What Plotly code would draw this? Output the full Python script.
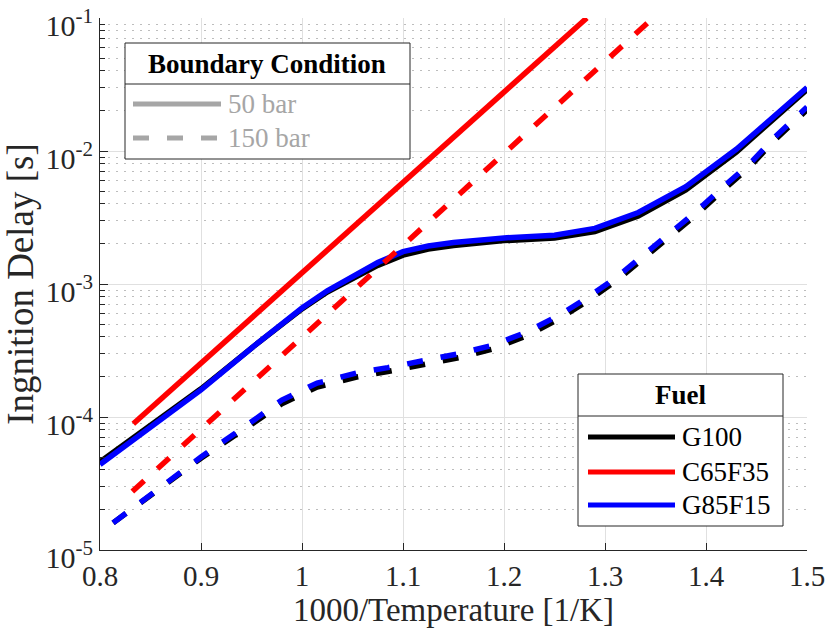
import plotly.graph_objects as go

# ---------------- data ----------------
x_50 = [0.80, 0.85, 0.90, 0.95, 1.00, 1.025, 1.05, 1.075, 1.10, 1.125, 1.15, 1.175, 1.20, 1.25, 1.29, 1.333, 1.38, 1.43, 1.50]
g100_50 = [4.6e-5, 8.6e-5, 1.63e-4, 3.3e-4, 6.5e-4, 8.7e-4, 1.1e-3, 1.38e-3, 1.65e-3, 1.83e-3, 1.95e-3, 2.05e-3, 2.12e-3, 2.22e-3, 2.48e-3, 3.25e-3, 5.1e-3, 9.8e-3, 2.9e-2]
g85f15_50 = [4.4e-5, 8.3e-5, 1.6e-4, 3.3e-4, 6.6e-4, 8.9e-4, 1.15e-3, 1.45e-3, 1.75e-3, 1.93e-3, 2.05e-3, 2.15e-3, 2.22e-3, 2.33e-3, 2.62e-3, 3.45e-3, 5.4e-3, 1.03e-2, 3.0e-2]

x_c_50 = [0.833, 0.90, 1.00, 1.10, 1.20, 1.282]
c65f35_50 = [8.9e-5, 2.54e-4, 1.21e-3, 5.8e-3, 2.77e-2, 1.0e-1]

x_150 = [0.813, 0.85, 0.90, 0.95, 0.98, 1.015, 1.054, 1.085, 1.114, 1.156, 1.189, 1.223, 1.255, 1.282, 1.312, 1.338, 1.364, 1.392, 1.417, 1.444, 1.468, 1.50]
g100_150 = [1.6e-5, 2.6e-5, 4.9e-5, 8.8e-5, 1.26e-4, 1.68e-4, 2.0e-4, 2.2e-4, 2.43e-4, 2.8e-4, 3.25e-4, 4.1e-4, 5.5e-4, 7.4e-4, 1.07e-3, 1.56e-3, 2.28e-3, 3.4e-3, 5.1e-3, 7.7e-3, 1.21e-2, 2.04e-2]
g85f15_150 = [1.6e-5, 2.6e-5, 5.0e-5, 9.2e-5, 1.34e-4, 1.8e-4, 2.14e-4, 2.35e-4, 2.6e-4, 3.0e-4, 3.47e-4, 4.37e-4, 5.85e-4, 7.85e-4, 1.13e-3, 1.65e-3, 2.41e-3, 3.6e-3, 5.37e-3, 8.1e-3, 1.27e-2, 2.14e-2]

x_c_150 = [0.832, 0.90, 1.00, 1.10, 1.20, 1.30, 1.3475]
c65f35_150 = [2.75e-5, 8.1e-5, 4.0e-4, 1.96e-3, 9.6e-3, 4.7e-2, 1.0e-1]

x_ticks = [0.8, 0.9, 1.0, 1.1, 1.2, 1.3, 1.4, 1.5]
x_ticktext = ["0.8", "0.9", "1", "1.1", "1.2", "1.3", "1.4", "1.5"]
y_ticks = [1e-5, 1e-4, 1e-3, 1e-2, 1e-1]
y_ticktext = ["10<sup>-5</sup>", "10<sup>-4</sup>", "10<sup>-3</sup>", "10<sup>-2</sup>", "10<sup>-1</sup>"]
y_minor = [m * 10.0 ** e for e in range(-5, -1) for m in range(2, 10)]

fuels = ["G100", "C65F35", "G85F15"]
fuel_colors = ["#000000", "#ff0000", "#0000ff"]
pressures = ["50 bar", "150 bar"]

# ---------------- styles ----------------
FONT = "Liberation Serif, Times New Roman, Times, serif"
LW = 5.5
DASH = "16px,18px"
AXC = "#262626"

fig = go.Figure()
series = [
    (x_50, g100_50, fuel_colors[0], "solid"),
    (x_c_50, c65f35_50, fuel_colors[1], "solid"),
    (x_50, g85f15_50, fuel_colors[2], "solid"),
    (x_150, g100_150, fuel_colors[0], DASH),
    (x_c_150, c65f35_150, fuel_colors[1], DASH),
    (x_150, g85f15_150, fuel_colors[2], DASH),
]
for xs, ys, c, d in series:
    fig.add_trace(go.Scatter(x=xs, y=ys, mode="lines", showlegend=False,
                             line=dict(color=c, width=LW, dash=d)))

W, H = 829, 633
L, R, T, B = 100, 22, 18, 83
pw, ph = W - L - R, H - T - B


def px(xp):
    return (xp - L) / pw


def py(yp):
    return (H - B - yp) / ph


shapes = []
annots = []


def box(x0, y0, x1, y1, ysep):
    shapes.append(dict(type="rect", xref="paper", yref="paper", x0=px(x0), x1=px(x1),
                       y0=py(y1), y1=py(y0), fillcolor="white",
                       line=dict(color=AXC, width=1), layer="above"))
    shapes.append(dict(type="line", xref="paper", yref="paper", x0=px(x0), x1=px(x1),
                       y0=py(ysep), y1=py(ysep), line=dict(color=AXC, width=1), layer="above"))


def item(xl0, xl1, yy, color, dash, text, tcolor):
    shapes.append(dict(type="line", xref="paper", yref="paper", x0=px(xl0), x1=px(xl1),
                       y0=py(yy), y1=py(yy), line=dict(color=color, width=5, dash=dash),
                       layer="above"))
    annots.append(dict(xref="paper", yref="paper", x=px(xl1 + 5), y=py(yy), text=text,
                       showarrow=False, xanchor="left", yanchor="middle",
                       font=dict(family=FONT, size=27, color=tcolor)))


# Boundary condition legend
box(125, 43, 410, 159, 84)
annots.append(dict(xref="paper", yref="paper", x=px(267), y=py(64), text="<b>Boundary Condition</b>",
                   showarrow=False, xanchor="center", yanchor="middle",
                   font=dict(family=FONT, size=27, color="black")))
item(133, 221, 104, "#a6a6a6", "solid", pressures[0], "#a6a6a6")
item(133, 221, 138, "#a6a6a6", DASH, pressures[1], "#a6a6a6")

# Fuel legend
box(578, 374, 783, 526, 416)
annots.append(dict(xref="paper", yref="paper", x=px(680), y=py(395), text="<b>Fuel</b>",
                   showarrow=False, xanchor="center", yanchor="middle",
                   font=dict(family=FONT, size=27, color="black")))
for i, (f, c) in enumerate(zip(fuels, fuel_colors)):
    item(588, 675, [437, 472, 505][i], c, "solid", f, "black")

fig.update_layout(
    width=W, height=H,
    margin=dict(l=L, r=R, t=T, b=B, autoexpand=False),
    paper_bgcolor="white", plot_bgcolor="white",
    font=dict(family=FONT, size=29, color=AXC),
    shapes=shapes, annotations=annots,
    showlegend=False,
)
fig.update_xaxes(
    range=[0.8, 1.5], tickvals=x_ticks, ticktext=x_ticktext, automargin=False,
    ticklabeloverflow="allow",
    showline=True, linecolor=AXC, linewidth=1.2,
    ticks="inside", ticklen=7, tickcolor=AXC,
    showgrid=True, gridcolor="#e0e0e0", gridwidth=1, zeroline=False,
    tickfont=dict(family=FONT, size=29, color=AXC),
    title=dict(text="1000/Temperature [1/K]", font=dict(family=FONT, size=33, color=AXC), standoff=4),
)
fig.update_yaxes(
    type="log", range=[-5, -0.99995], tickvals=y_ticks, ticktext=y_ticktext, automargin=False,
    ticklabeloverflow="allow", ticklabelshift=7,
    showline=True, linecolor=AXC, linewidth=1.2,
    ticks="inside", ticklen=8, tickcolor=AXC,
    showgrid=True, gridcolor="#e0e0e0", gridwidth=1, zeroline=False,
    minor=dict(tickvals=y_minor, ticks="inside", ticklen=5, tickcolor=AXC,
               showgrid=True, gridcolor="#bdbdbd", griddash="2px,6px", gridwidth=1),
    tickfont=dict(family=FONT, size=30, color=AXC),
    title=dict(text="Ingnition Delay [s]", font=dict(family=FONT, size=37, color=AXC), standoff=4),
)

fig.write_html("out.html")
